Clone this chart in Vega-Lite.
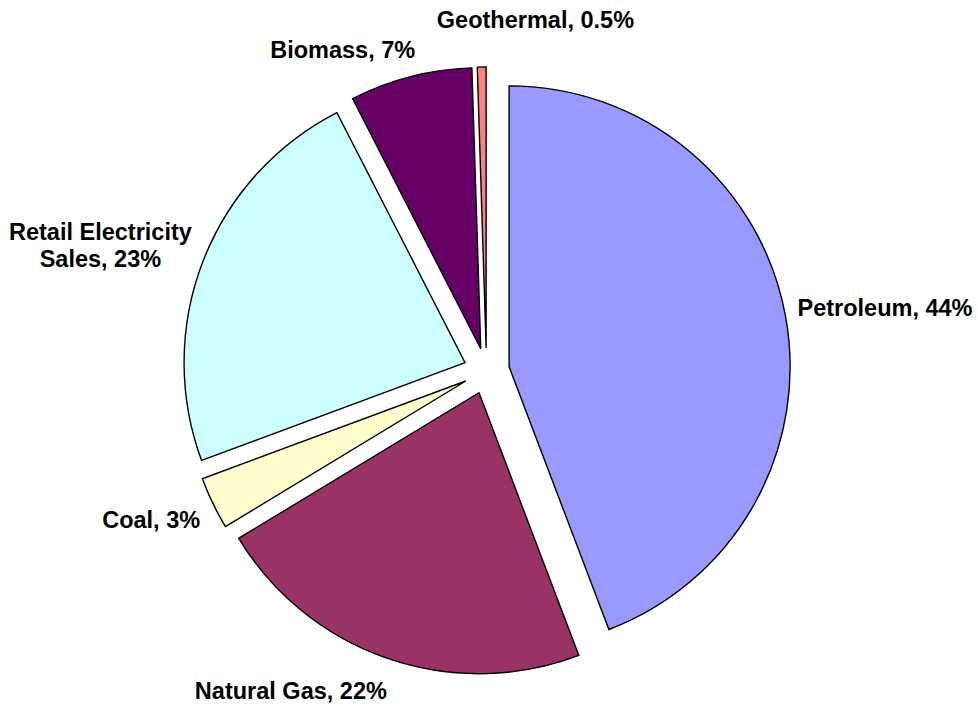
{
  "$schema": "https://vega.github.io/schema/vega-lite/v6.json",
  "width": 973,
  "height": 672,
  "autosize": "none",
  "padding": {"left": 0, "top": 35, "right": 5, "bottom": 0},
  "background": "white",
  "view": {"stroke": null},
  "data": {
    "values": [
      {"idx": 1, "source": "Petroleum", "label": "Petroleum, 44%", "value": 44},
      {"idx": 2, "source": "Natural Gas", "label": "Natural Gas, 22%", "value": 22},
      {"idx": 3, "source": "Coal", "label": "Coal, 3%", "value": 3},
      {"idx": 4, "source": "Retail Electricity Sales", "label": "Retail Electricity\nSales, 23%", "value": 23},
      {"idx": 5, "source": "Biomass", "label": "Biomass, 7%", "value": 7},
      {"idx": 6, "source": "Geothermal", "label": "Geothermal, 0.5%", "value": 0.5}
    ]
  },
  "encoding": {
    "theta": {"field": "value", "type": "quantitative", "stack": true},
    "order": {"field": "idx", "type": "quantitative", "sort": "ascending"}
  },
  "layer": [
    {
      "mark": {
        "type": "arc",
        "radius": 281,
        "stroke": "black",
        "strokeWidth": 1.4,
        "strokeJoin": "miter",
        "xOffset": {"expr": "23*sin(scale('theta', (datum.value_start + datum.value_end)/2))"},
        "yOffset": {"expr": "-23*cos(scale('theta', (datum.value_start + datum.value_end)/2))"}
      },
      "encoding": {
        "color": {
          "field": "source",
          "type": "nominal",
          "scale": {
            "domain": ["Petroleum", "Natural Gas", "Coal", "Retail Electricity Sales", "Biomass", "Geothermal"],
            "range": ["#9999FF", "#993366", "#FFFFCC", "#CCFFFF", "#660066", "#FF8080"]
          },
          "legend": null
        }
      }
    },
    {
      "mark": {"type": "text", "radius": 317, "thetaOffset": -0.014, "align": "left", "baseline": "middle", "font": "Liberation Sans", "fontWeight": "bold", "fontSize": 23.5, "color": "black"},
      "encoding": {
        "detail": {"field": "source", "type": "nominal"},
        "text": {"condition": {"test": "datum.source === 'Petroleum'", "field": "label", "type": "nominal"}, "value": ""}
      }
    },
    {
      "mark": {"type": "text", "radius": 325, "thetaOffset": -0.02, "align": "right", "baseline": "top", "font": "Liberation Sans", "fontWeight": "bold", "fontSize": 23.5, "color": "black"},
      "encoding": {
        "detail": {"field": "source", "type": "nominal"},
        "text": {"condition": {"test": "datum.source === 'Natural Gas'", "field": "label", "type": "nominal"}, "value": ""}
      }
    },
    {
      "mark": {"type": "text", "radius": 318, "thetaOffset": 0, "align": "right", "baseline": "top", "font": "Liberation Sans", "fontWeight": "bold", "fontSize": 23.5, "color": "black"},
      "encoding": {
        "detail": {"field": "source", "type": "nominal"},
        "text": {"condition": {"test": "datum.source === 'Coal'", "field": "label", "type": "nominal"}, "value": ""}
      }
    },
    {
      "mark": {"type": "text", "radius": 410, "thetaOffset": -0.028, "align": "center", "baseline": "middle", "lineBreak": "\n", "lineHeight": 27, "font": "Liberation Sans", "fontWeight": "bold", "fontSize": 23.5, "color": "black"},
      "encoding": {
        "detail": {"field": "source", "type": "nominal"},
        "text": {"condition": {"test": "datum.source === 'Retail Electricity Sales'", "field": "label", "type": "nominal"}, "value": ""}
      }
    },
    {
      "mark": {"type": "text", "radius": 316, "thetaOffset": 0.025, "align": "right", "baseline": "bottom", "font": "Liberation Sans", "fontWeight": "bold", "fontSize": 23.5, "color": "black"},
      "encoding": {
        "detail": {"field": "source", "type": "nominal"},
        "text": {"condition": {"test": "datum.source === 'Biomass'", "field": "label", "type": "nominal"}, "value": ""}
      }
    },
    {
      "mark": {"type": "text", "radius": 342, "thetaOffset": -0.13, "align": "left", "baseline": "bottom", "font": "Liberation Sans", "fontWeight": "bold", "fontSize": 23.5, "color": "black"},
      "encoding": {
        "detail": {"field": "source", "type": "nominal"},
        "text": {"condition": {"test": "datum.source === 'Geothermal'", "field": "label", "type": "nominal"}, "value": ""}
      }
    }
  ]
}
